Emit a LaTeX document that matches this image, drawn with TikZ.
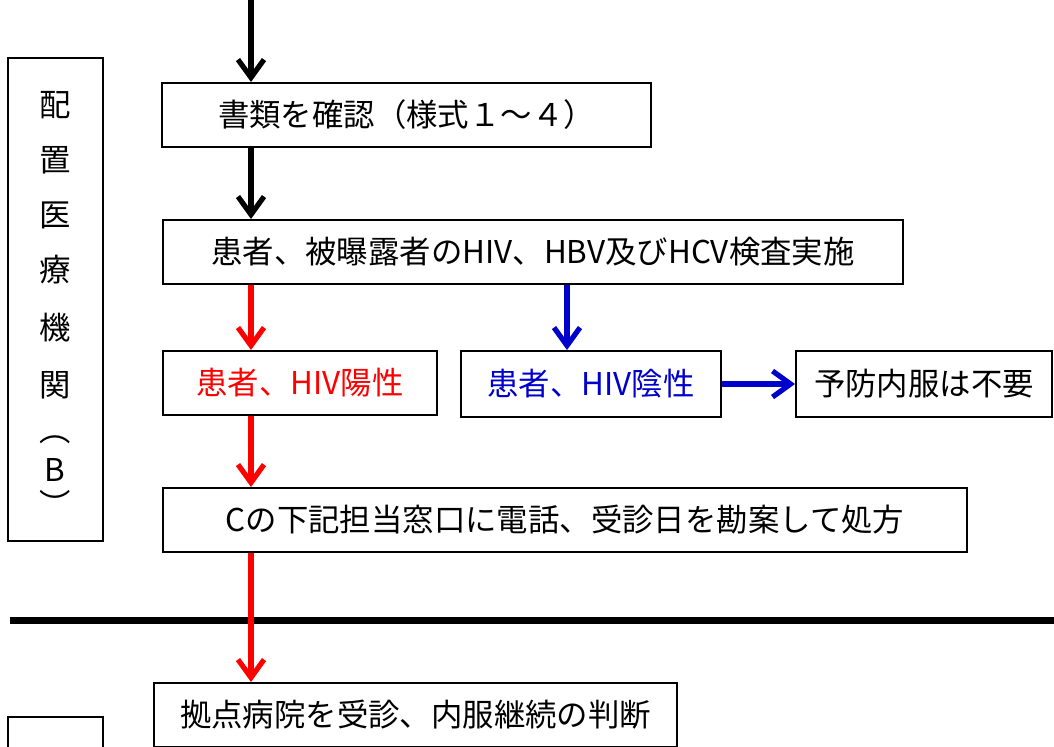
\documentclass[tikz,border=0pt]{standalone}
\usepackage{fontspec}
\setmainfont{Noto Sans CJK JP}
\usetikzlibrary{arrows.meta}
\definecolor{posred}{RGB}{255,0,0}
\definecolor{negblue}{RGB}{0,0,204}
\begin{document}
\begin{tikzpicture}[x=0.5pt,y=-0.5pt,
    box/.style={draw,line width=1pt,inner sep=0pt,minimum height=32pt,
      font=\fontsize{15.7pt}{18pt}\selectfont},
    flow/.style={line width=2.6pt,-{Straight Barb[length=9pt,width=13pt]}},
  ]
  \useasboundingbox (0,0) rectangle (1054,746);

  % side label
  \node[box,minimum width=47.5pt,minimum height=241.5pt] (side) at (55.5,299.5) {};
  \foreach \ch/\yy [count=\i] in {配/105,置/160,医/215,療/270,機/328,関/385,︵/440,B/470,︶/503}
    \node[font=\fontsize{15.7pt}{18pt}\selectfont] (side\i) at (55,\yy) {\ch};
  \node[box,minimum width=47.5pt,minimum height=43pt] (lowside) at (55.5,760) {};

  % boxes
  \node[box,minimum width=244.5pt] (check) at (406.5,115) {書類を確認（様式１～４）};
  \node[box,minimum width=370pt] (test) at (533,252) {患者、被曝露者のHIV、HBV及びHCV検査実施};
  \node[box,minimum width=137pt,text=posred] (pos) at (300,383) {患者、HIV陽性};
  \node[box,minimum width=130pt,minimum height=33pt,text=negblue] (neg) at (591,384) {患者、HIV陰性};
  \node[box,minimum width=128pt,minimum height=33pt] (none) at (924,384) {予防内服は不要};
  \node[box,minimum width=402pt] (call) at (565,520) {Cの下記担当窓口に電話、受診日を勘案して処方};
  \node[box,minimum width=261.5pt] (hub) at (415.5,715) {拠点病院を受診、内服継続の判断};

  % divider
  \coordinate (divl) at (10,620);
  \coordinate (divr) at (1054,620);
  \draw[line width=3.5pt] (divl) -- (divr);

  % arrows
  \coordinate (start) at (251,0);
  \coordinate (negx) at (567,0);
  \draw[flow] (start) -- (start |- check.north);
  \draw[flow] (check.south -| start) -- (test.north -| start);
  \draw[flow,posred] (test.south -| start) -- (pos.north -| start);
  \draw[flow,negblue] (test.south -| negx) -- (neg.north -| negx);
  \draw[flow,negblue] (neg.east) -- (none.west);
  \draw[flow,posred] (pos.south -| start) -- (call.north -| start);
  \draw[flow,posred] (call.south -| start) -- (hub.north -| start);
\end{tikzpicture}
\end{document}
